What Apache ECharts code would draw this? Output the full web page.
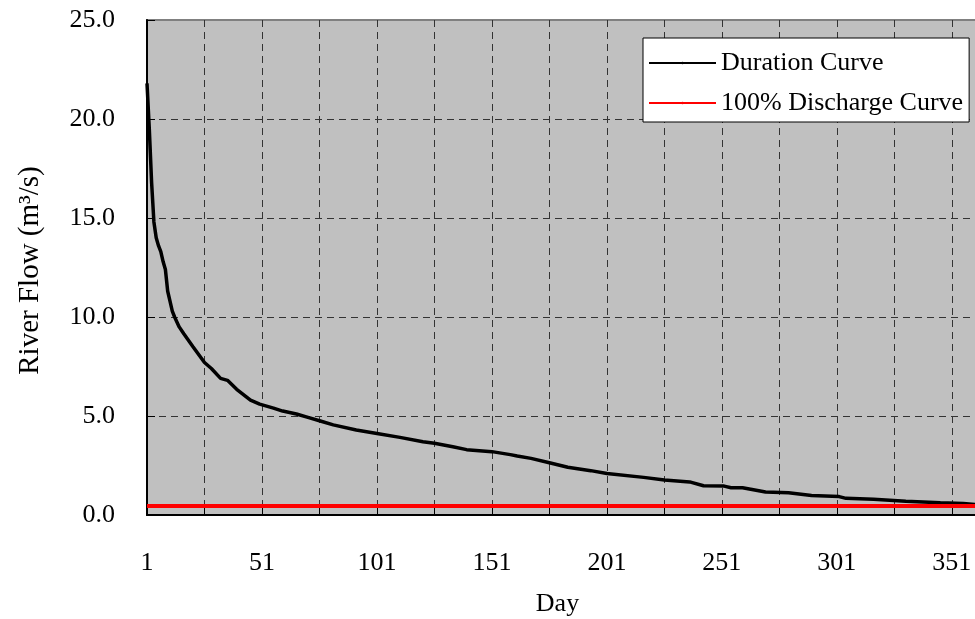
<!DOCTYPE html>
<html>
<head>
<meta charset="utf-8">
<script src="https://cdn.jsdelivr.net/npm/echarts@6/dist/echarts.min.js"></script>
<style>
html,body{margin:0;padding:0;background:#fff;}
#chart{width:975px;height:619px;}
</style>
</head>
<body>
<div id="chart"></div>
<script>
// Duration curve (day of ranking, river flow m3/s)
var durationDays = [1, 2, 3, 4, 5, 6, 7, 8, 9, 10, 11, 12, 13, 15, 17, 21, 26, 29, 33, 36, 40, 46, 50, 56, 60, 66, 71, 76, 82, 92, 101, 111, 121, 126, 134, 140, 151, 159, 162, 168, 176, 184, 194, 201, 217, 226, 237, 243, 252, 255, 260, 270, 280, 290, 302, 305, 317, 331, 346, 356, 362, 365];
var durationFlow = [21.8, 19.5, 16.8, 14.8, 14.0, 13.6, 13.3, 12.8, 12.4, 11.3, 10.8, 10.3, 10.0, 9.5, 9.15, 8.5, 7.7, 7.4, 6.9, 6.8, 6.35, 5.8, 5.6, 5.4, 5.25, 5.1, 4.93, 4.76, 4.55, 4.29, 4.12, 3.92, 3.7, 3.62, 3.45, 3.3, 3.2, 3.05, 2.98, 2.86, 2.64, 2.41, 2.24, 2.1, 1.9, 1.77, 1.67, 1.48, 1.46, 1.38, 1.38, 1.16, 1.12, 0.99, 0.93, 0.84, 0.79, 0.69, 0.62, 0.58, 0.52, 0.47];
// 100% discharge curve (constant)
var dischargeDays = [1, 365];
var dischargeFlow = [0.46, 0.46];
var seriesNames = ['Duration Curve', '100% Discharge Curve'];
var yTicks = [0, 5, 10, 15, 20, 25];
var xLabelDays = [1, 51, 101, 151, 201, 251, 301, 351];

function pairs(days, vals) {
  return days.map(function (d, i) { return [d - 1, vals[i]]; });
}

var font = "'Liberation Serif', 'Times New Roman', serif";
var chart = echarts.init(document.getElementById('chart'), null, {renderer: 'canvas'});
chart.setOption({
  animation: false,
  textStyle: {fontFamily: font},
  grid: {
    left: 147, top: 20, right: -9, bottom: 104,
    containLabel: false,
    outerBoundsMode: 'none',
    show: true, backgroundColor: '#C0C0C0', borderColor: '#808080', borderWidth: 2
  },
  legend: {
    orient: 'vertical',
    left: 643, top: 38,
    padding: [12, 6, 6, 5],
    backgroundColor: '#ffffff',
    borderColor: '#000000', borderWidth: 1,
    itemWidth: 67, itemHeight: 3, itemGap: 14,
    textStyle: {fontFamily: font, fontSize: 26, color: '#000'},
    data: seriesNames
  },
  xAxis: {
    type: 'value',
    min: 0, max: 364, interval: 25,
    name: 'Day',
    nameLocation: 'middle',
    nameGap: 76,
    nameTextStyle: {fontFamily: font, fontSize: 26, color: '#000', padding: [0, 16, 0, 0]},
    axisLine: {show: true, onZero: false, lineStyle: {color: '#000', width: 2}},
    axisTick: {show: true, inside: true, length: 7, lineStyle: {color: '#000', width: 1}},
    axisLabel: {
      margin: 35, fontFamily: font, fontSize: 26, color: '#000',
      formatter: function (v) { return xLabelDays.indexOf(v + 1) >= 0 ? String(v + 1) : ''; }
    },
    splitLine: {show: true, showMinLine: false, lineStyle: {color: '#333', width: 1, type: [7, 5]}}
  },
  yAxis: {
    type: 'value',
    min: yTicks[0], max: yTicks[yTicks.length - 1], interval: 5,
    name: 'River Flow (m³/s)',
    nameLocation: 'middle',
    nameGap: 102,
    nameTextStyle: {fontFamily: font, fontSize: 29, color: '#000', padding: [0, 6, 0, 0]},
    axisLine: {show: true, lineStyle: {color: '#000', width: 2}},
    axisTick: {show: true, inside: true, length: 8, lineStyle: {color: '#000', width: 1}},
    axisLabel: {
      margin: 32, fontFamily: font, fontSize: 26, color: '#000',
      formatter: function (v) { return v.toFixed(1); }
    },
    splitLine: {show: true, showMinLine: false, showMaxLine: false, lineStyle: {color: '#333', width: 1, type: [7, 5]}}
  },
  series: [
    {
      name: seriesNames[0], type: 'line', symbol: 'none',
      data: pairs(durationDays, durationFlow),
      lineStyle: {color: '#000', width: 3.5},
      itemStyle: {color: '#000'},
      z: 3
    },
    {
      name: seriesNames[1], type: 'line', symbol: 'none',
      data: pairs(dischargeDays, dischargeFlow),
      lineStyle: {color: '#ff0000', width: 4},
      itemStyle: {color: '#ff0000'},
      z: 4
    }
  ]
});
</script>
</body>
</html>
